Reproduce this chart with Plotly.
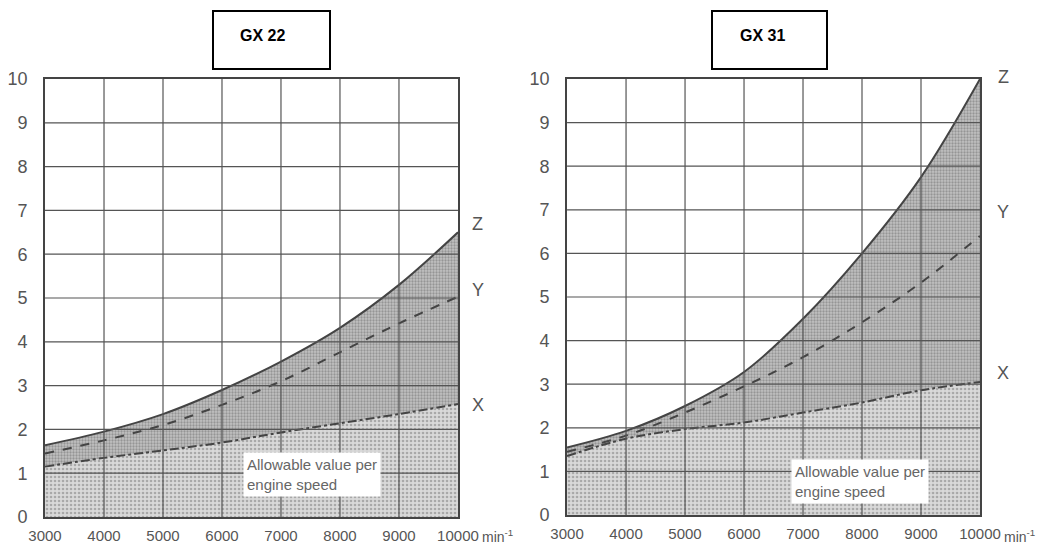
import plotly.graph_objects as go

# engine speed (min^-1)
rpm = [3000, 4000, 5000, 6000, 7000, 8000, 9000, 10000]

# GX 22 curves
gx22_z = [1.64, 1.95, 2.35, 2.9, 3.55, 4.32, 5.3, 6.5]
gx22_y = [1.45, 1.75, 2.1, 2.56, 3.1, 3.76, 4.42, 5.03]
gx22_x = [1.15, 1.35, 1.52, 1.7, 1.93, 2.14, 2.35, 2.58]

# GX 31 curves
gx31_z = [1.55, 1.93, 2.5, 3.28, 4.5, 6.0, 7.75, 10.0]
gx31_y = [1.45, 1.82, 2.35, 2.95, 3.62, 4.42, 5.33, 6.4]
gx31_x = [1.35, 1.75, 1.97, 2.12, 2.35, 2.58, 2.86, 3.05]

x_ticks = [3000, 4000, 5000, 6000, 7000, 8000, 9000, 10000]
x_labels = ["3000", "4000", "5000", "6000", "7000", "8000", "9000", "10000"]
y_ticks = list(range(0, 11))

GRID = "#555555"
TXT = "#555555"

fig = go.Figure()


def add_panel(xa, ya, z, y, x):
    fig.add_trace(go.Scatter(
        x=rpm, y=x, xaxis=xa, yaxis=ya, mode="lines", line_shape="spline",
        line=dict(color="#444", width=2, dash="dashdot"),
        fill="tozeroy", fillcolor="rgba(0,0,0,0)",
        fillpattern=dict(shape=".", bgcolor="#d9d9d9", fgcolor="#777777",
                         size=4, solidity=0.35),
        showlegend=False, hoverinfo="skip",
    ))
    fig.add_trace(go.Scatter(
        x=rpm, y=z, xaxis=xa, yaxis=ya, mode="lines", line_shape="spline",
        line=dict(color="#444", width=2),
        fill="tonexty", fillcolor="rgba(0,0,0,0)",
        fillpattern=dict(shape=".", bgcolor="#c2c2c2", fgcolor="#666666",
                         size=3, solidity=0.45),
        showlegend=False, hoverinfo="skip",
    ))
    fig.add_trace(go.Scatter(
        x=rpm, y=y, xaxis=xa, yaxis=ya, mode="lines", line_shape="spline",
        line=dict(color="#444", width=2, dash="dash"),
        showlegend=False, hoverinfo="skip",
    ))


add_panel("x", "y", gx22_z, gx22_y, gx22_x)
add_panel("x2", "y2", gx31_z, gx31_y, gx31_x)

axis_x = dict(range=[3000, 10000], tickvals=x_ticks, ticktext=x_labels,
              showgrid=False, zeroline=False, automargin=False, ticklabelstandoff=4,
              showline=True, linecolor="#444", linewidth=2, mirror=True,
              tickfont=dict(family="Liberation Sans", size=15, color=TXT), ticks="")
axis_y = dict(range=[0, 10], tickvals=y_ticks, showgrid=False, zeroline=False,
              automargin=False, ticklabelstandoff=12,
              showline=True, linecolor="#444", linewidth=2, mirror=True,
              tickfont=dict(family="Liberation Sans", size=18, color=TXT), ticks="")

fig.update_layout(
    width=1047, height=546,
    paper_bgcolor="white", plot_bgcolor="white",
    margin=dict(l=0, r=0, t=0, b=0, autoexpand=False),
    xaxis=dict(axis_x, domain=[0.043, 0.4374]),
    yaxis=dict(axis_y, domain=[0.0531, 0.8553]),
    xaxis2=dict(axis_x, domain=[0.5416, 0.936], anchor="y2"),
    yaxis2=dict(axis_y, domain=[0.0568, 0.8553], anchor="x2"),
)

# grid drawn over the stippled fills
for xr, yr in [("x", "y"), ("x2", "y2")]:
    for v in x_ticks[1:-1]:
        fig.add_shape(type="line", xref=xr, yref=yr, x0=v, x1=v, y0=0, y1=10,
                      line=dict(color=GRID, width=1.2), layer="above")
    for v in y_ticks[1:-1]:
        fig.add_shape(type="line", xref=xr, yref=yr, x0=3000, x1=10000, y0=v, y1=v,
                      line=dict(color=GRID, width=1.2), layer="above")

# title boxes
for x0, x1, label, tx in [(213, 330, "GX 22", 262), (712, 827, "GX 31", 762)]:
    fig.add_shape(type="rect", xref="paper", yref="paper",
                  x0=x0 / 1047, x1=x1 / 1047, y0=1 - 69 / 546, y1=1 - 11 / 546,
                  line=dict(color="black", width=2), fillcolor="white")
    fig.add_annotation(xref="paper", yref="paper", x=tx / 1047, y=1 - 35 / 546,
                       xanchor="center", yanchor="middle",
                       text="<b>" + label + "</b>", showarrow=False,
                       font=dict(family="Liberation Sans", size=16, color="black"))

# curve labels (Z / Y / X) outside the right border, plus the unit
for xr, yr, lx, pos in [("x", "y", 1.048, [(6.7, "Z"), (5.18, "Y"), (2.56, "X")]),
                        ("x2", "y2", 1.056, [(10.05, "Z"), (6.95, "Y"), (3.26, "X")])]:
    for yv, lab in pos:
        fig.add_annotation(xref=xr + " domain", yref=yr + " domain", x=lx, y=yv / 10,
                           xanchor="center", yanchor="middle",
                           text=lab, showarrow=False,
                           font=dict(family="Liberation Sans", size=18, color=TXT))
    fig.add_annotation(xref=xr + " domain", yref="paper", x=1.053, y=1 - 536 / 546,
                       xanchor="left", yanchor="middle",
                       text="min<sup>-1</sup>", showarrow=False,
                       font=dict(family="Liberation Sans", size=14, color=TXT))

fig.add_annotation(xref="x", yref="y", x=6350, y=0.96, xanchor="left",
                   text="Allowable value per<br>engine speed", align="left",
                   showarrow=False, bgcolor="white", borderpad=3,
                   font=dict(family="Liberation Sans", size=15, color="#666"))
fig.add_annotation(xref="x2", yref="y2", x=6800, y=0.76, xanchor="left",
                   text="Allowable value per<br>engine speed", align="left",
                   showarrow=False, bgcolor="white", borderpad=3,
                   font=dict(family="Liberation Sans", size=15, color="#666"))

# page body has a default margin; drop it so the figure sits at the window origin
fig.write_html("out.html", config={"displayModeBar": False},
               post_script="document.body.style.margin='0';")
